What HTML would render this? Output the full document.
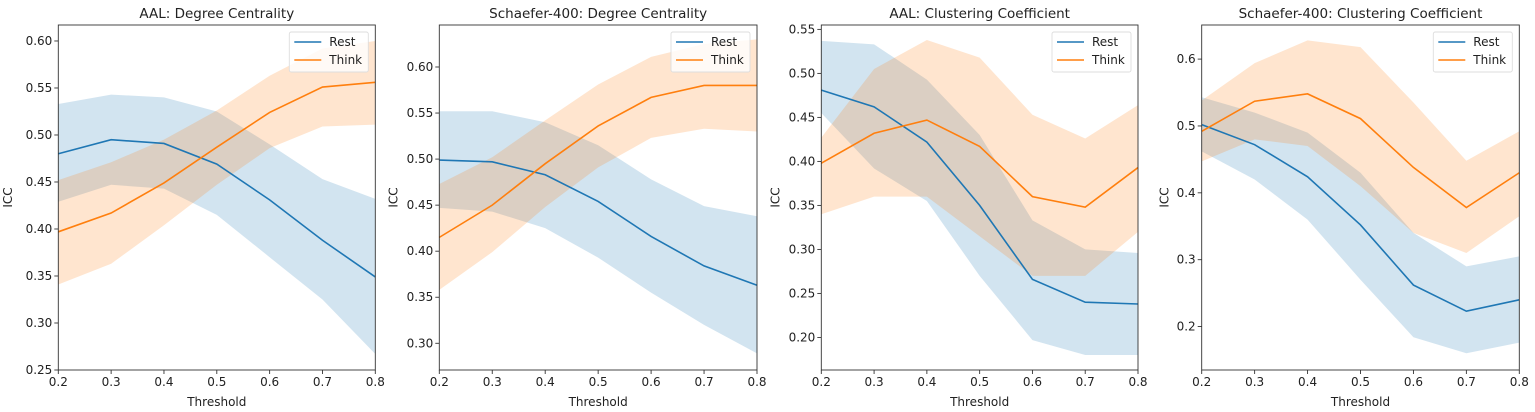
<!DOCTYPE html>
<html><head><meta charset="utf-8"><style>
html,body{margin:0;padding:0;background:#fff;}
svg{display:block;font-family:"DejaVu Sans","Liberation Sans",sans-serif;}
</style></head><body>
<svg id="c" width="1535" height="412"></svg>
<script>
const thresholds=[0.2,0.3,0.4,0.5,0.6,0.7,0.8];
const xTicks=["0.2","0.3","0.4","0.5","0.6","0.7","0.8"];
const titles=["AAL: Degree Centrality","Schaefer-400: Degree Centrality","AAL: Clustering Coefficient","Schaefer-400: Clustering Coefficient"];
const restMean=[[0.48,0.495,0.491,0.469,0.431,0.388,0.349],[0.499,0.497,0.483,0.454,0.416,0.384,0.363],[0.481,0.462,0.422,0.35,0.266,0.24,0.238],[0.502,0.472,0.424,0.352,0.262,0.223,0.24]];
const restLow=[[0.429,0.447,0.443,0.415,0.37,0.325,0.267],[0.447,0.443,0.425,0.393,0.355,0.32,0.289],[0.455,0.392,0.355,0.27,0.197,0.18,0.18],[0.462,0.42,0.36,0.27,0.184,0.16,0.176]];
const restHigh=[[0.533,0.543,0.54,0.525,0.49,0.453,0.432],[0.552,0.552,0.54,0.515,0.478,0.449,0.438],[0.537,0.533,0.493,0.43,0.333,0.30,0.296],[0.543,0.52,0.49,0.43,0.34,0.29,0.305]];
const thinkMean=[[0.397,0.417,0.449,0.487,0.524,0.551,0.556],[0.415,0.45,0.495,0.536,0.567,0.58,0.58],[0.398,0.432,0.447,0.417,0.36,0.348,0.393],[0.492,0.537,0.548,0.511,0.438,0.378,0.43]];
const thinkLow=[[0.341,0.363,0.404,0.447,0.486,0.509,0.511],[0.358,0.399,0.448,0.491,0.523,0.533,0.53],[0.34,0.36,0.36,0.315,0.27,0.27,0.32],[0.447,0.48,0.47,0.41,0.34,0.31,0.365]];
const thinkHigh=[[0.452,0.471,0.495,0.526,0.563,0.592,0.6],[0.473,0.502,0.542,0.581,0.611,0.625,0.63],[0.427,0.505,0.538,0.518,0.453,0.426,0.464],[0.538,0.594,0.628,0.618,0.535,0.448,0.492]];
const yTickLabels=[["0.25","0.30","0.35","0.40","0.45","0.50","0.55","0.60"],["0.30","0.35","0.40","0.45","0.50","0.55","0.60"],["0.20","0.25","0.30","0.35","0.40","0.45","0.50","0.55"],["0.2","0.3","0.4","0.5","0.6"]];
const yDomains=[[0.25,0.617],[0.271,0.6456],[0.163,0.555],[0.135,0.651]];
const panelX=[[58.3,375.3],[439.3,757],[821.3,1138],[1201.7,1519.3]];
const plotTop=25,plotBot=370;
const NS="http://www.w3.org/2000/svg";
const svg=document.getElementById('c');
function mk(tag,attrs,parent){const e=document.createElementNS(NS,tag);for(const k in attrs)e.setAttribute(k,attrs[k]);(parent||svg).appendChild(e);return e;}
const BLUE="#1f77b4",ORANGE="#ff7f0e";
for(let p=0;p<4;p++){
  const [x0,x1]=panelX[p],[d0,d1]=yDomains[p];
  const xs=v=>x0+(v-0.2)/0.6*(x1-x0);
  const ys=v=>plotBot-(v-d0)/(d1-d0)*(plotBot-plotTop);
  const g=mk('g',{});
  
  
  const band=(lo,hi,col,name)=>{
    let pts=thresholds.map((t,i)=>xs(t)+','+ys(hi[i]));
    pts=pts.concat(thresholds.map((t,i)=>xs(t)+','+ys(lo[i])).reverse());
    const e=mk('polygon',{points:pts.join(' '),fill:col,'fill-opacity':0.2},g);
    
    
  };
  const line=(m,col,name)=>{
    const e=mk('polyline',{points:thresholds.map((t,i)=>xs(t)+','+ys(m[i])).join(' '),fill:'none',stroke:col,'stroke-width':1.6},g);
    
    
  };
  band(restLow[p],restHigh[p],BLUE,'rest-band');
  band(thinkLow[p],thinkHigh[p],ORANGE,'think-band');
  line(restMean[p],BLUE,'rest-line');
  line(thinkMean[p],ORANGE,'think-line');
  const fr=mk('rect',{x:x0,y:plotTop,width:x1-x0,height:plotBot-plotTop,fill:'none',stroke:'#333','stroke-width':0.9},g);
  
  
  thresholds.forEach((t,i)=>{
    const x=xs(t);
    mk('line',{x1:x,x2:x,y1:plotBot,y2:plotBot+4,stroke:'#333','stroke-width':0.9},g);
    const tx=mk('text',{x:x,y:plotBot+16,'text-anchor':'middle','font-size':12,fill:'#222'},g);
    tx.textContent=xTicks[i];
    
    
  });
  yTickLabels[p].forEach(l=>{
    const y=ys(parseFloat(l));
    mk('line',{x1:x0-4,x2:x0,y1:y,y2:y,stroke:'#333','stroke-width':0.9},g);
    const tx=mk('text',{x:x0-6,y:y+4,'text-anchor':'end','font-size':12,fill:'#222'},g);
    tx.textContent=l;
    
    
  });
  const ti=mk('text',{x:(x0+x1)/2,y:18,'text-anchor':'middle','font-size':13.5,fill:'#222'},g);
  ti.textContent=titles[p];
  
  
  const xl=mk('text',{x:(x0+x1)/2,y:406,'text-anchor':'middle','font-size':12,fill:'#222'},g);
  xl.textContent='Threshold';
  
  
  const ylx=p===0?12:x0-(p===3?33:42);
  const yl=mk('text',{x:ylx,y:(plotTop+plotBot)/2,'text-anchor':'middle','font-size':12,fill:'#222',transform:`rotate(-90 ${ylx} ${(plotTop+plotBot)/2})`},g);
  yl.textContent='ICC';
  
  
  const lg=mk('g',{},g);
  
  
  const lx=x1-86,ly=32;
  mk('rect',{x:lx,y:ly,width:79,height:40,rx:2,fill:'#fff','fill-opacity':0.8,stroke:'#ddd','stroke-width':0.9},lg);
  [['Rest',BLUE],['Think',ORANGE]].forEach((e,i)=>{
    const yy=ly+10+i*18;
    mk('line',{x1:lx+5,x2:lx+32,y1:yy,y2:yy,stroke:e[1],'stroke-width':1.6},lg);
    const t=mk('text',{x:lx+40,y:yy+4,'font-size':12,fill:'#222'},lg);
    t.textContent=e[0];
    
    
  });
}
</script>
</body></html>
